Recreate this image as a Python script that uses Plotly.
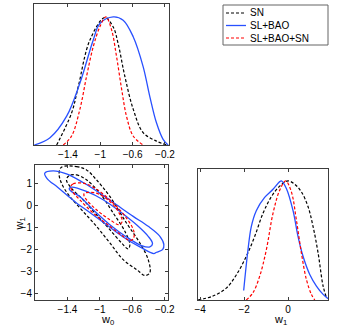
import plotly.graph_objects as go

# ---------------- data ----------------
series_names = ["SN", "SL+BAO", "SL+BAO+SN"]

# 1D marginal of w0 (normalised to peak = 1)
w0_sn_x = [-1.54, -1.355, -1.272, -1.128, -0.943, -0.84, -0.779, -0.696, -0.593, -0.47, -0.305, -0.182]
w0_sn_p = [0, 0.25, 0.457, 0.819, 0.995, 0.92, 0.79, 0.535, 0.28, 0.096, 0.03, 0]
w0_bao_x = [-1.816, -1.622, -1.416, -1.252, -1.087, -1.005, -0.84, -0.717, -0.593, -0.47, -0.388, -0.305, -0.223, -0.161]
w0_bao_p = [0, 0.057, 0.225, 0.483, 0.819, 0.948, 1.0, 0.974, 0.845, 0.612, 0.38, 0.173, 0.044, 0]
w0_all_x = [-1.458, -1.355, -1.252, -1.17, -1.087, -1.005, -0.931, -0.861, -0.799, -0.737, -0.676, -0.593, -0.47]
w0_all_p = [0, 0.07, 0.28, 0.535, 0.767, 0.922, 1.0, 0.9, 0.69, 0.44, 0.225, 0.07, 0]

# 1D marginal of w1
w1_sn_x = [-4.1, -3.42, -2.81, -2.357, -1.9, -1.52, -1.14, -0.76, -0.38, 0, 0.304, 0.608, 0.913, 1.14, 1.37, 1.597, 1.75]
w1_sn_p = [0, 0.033, 0.1, 0.21, 0.367, 0.533, 0.728, 0.867, 0.956, 1.0, 0.972, 0.908, 0.783, 0.617, 0.394, 0.117, 0.02]
w1_bao_x = [-2.02, -1.825, -1.673, -1.445, -1.065, -0.684, -0.38, -0.304, -0.076, 0.228, 0.456, 0.684, 0.989, 1.293, 1.597, 1.825]
w1_bao_p = [0.08, 0.42, 0.617, 0.75, 0.861, 0.93, 0.994, 1.0, 0.936, 0.75, 0.533, 0.367, 0.214, 0.117, 0.047, 0.011]
w1_all_x = [-1.9, -1.6, -1.29, -0.99, -0.684, -0.38, -0.106, 0.152, 0.38, 0.608, 0.837, 1.065, 1.217]
w1_all_p = [0, 0.06, 0.2, 0.42, 0.728, 0.922, 1.0, 0.908, 0.672, 0.394, 0.172, 0.047, 0]

# 2D confidence contours (w0, w1): 68% and 95%
sn68_w0 = [-1.379, -1.289, -1.165, -1.001, -0.836, -0.692, -0.630, -0.651, -0.733, -0.877, -1.042, -1.207, -1.351, -1.412, -1.379]
sn68_w1 = [1.379, 1.409, 1.182, 0.576, -0.333, -1.167, -1.773, -1.97, -1.697, -1.091, -0.409, 0.273, 0.803, 1.182, 1.379]
sn95_w0 = [-1.474, -1.289, -1.165, -1.042, -0.877, -0.672, -0.507, -0.404, -0.384, -0.445, -0.548, -0.713, -0.877, -1.042, -1.207, -1.371, -1.474, -1.503, -1.474]
sn95_w1 = [1.758, 1.788, 1.636, 1.182, 0.424, -0.788, -1.697, -2.455, -3.061, -3.182, -2.909, -2.455, -1.697, -0.939, -0.258, 0.424, 1.03, 1.485, 1.758]
bao68_w0 = [-1.351, -1.165, -0.96, -0.754, -0.548, -0.404, -0.351, -0.384, -0.486, -0.672, -0.877, -1.083, -1.248, -1.351, -1.379, -1.351]
bao68_w1 = [0.848, 0.652, 0.273, -0.258, -0.864, -1.394, -1.727, -1.879, -1.818, -1.424, -0.864, -0.182, 0.424, 0.652, 0.773, 0.848]
bao95_w0 = [-1.68, -1.577, -1.412, -1.207, -1.001, -0.795, -0.589, -0.404, -0.26, -0.211, -0.227, -0.301, -0.334, -0.507, -0.713, -0.919, -1.137, -1.281, -1.404, -1.528, -1.651, -1.68]
bao95_w1 = [1.485, 1.591, 1.455, 1.061, 0.576, 0.045, -0.485, -0.939, -1.394, -1.773, -2.0, -2.12, -2.182, -1.879, -1.424, -0.864, -0.273, 0.106, 0.485, 0.864, 1.242, 1.485]
all68_w0 = [-1.186, -1.042, -0.877, -0.774, -0.725, -0.762, -0.877, -1.042, -1.165, -1.198, -1.186]
all68_w1 = [0.576, 0.576, 0.197, -0.258, -0.712, -0.864, -0.636, -0.182, 0.273, 0.5, 0.576]
all95_w0 = [-1.359, -1.33, -1.207, -1.042, -0.836, -0.672, -0.581, -0.589, -0.639, -0.713, -0.877, -1.083, -1.248, -1.338, -1.359]
all95_w1 = [0.879, 1.0, 1.03, 0.758, 0.121, -0.561, -1.167, -1.515, -1.576, -1.394, -0.939, -0.333, 0.273, 0.652, 0.879]

w0_ticks = [-1.4, -1, -0.6, -0.2]
w0_ticklabels = ["\u22121.4", "\u22121", "\u22120.6", "\u22120.2"]
w1_ticks_y = [1, 0, -1, -2, -3, -4]
w1_ticklabels_y = ["1", "0", "\u22121", "\u22122", "\u22123", "\u22124"]
w1_ticks_x = [-4, -2, 0]
w1_ticklabels_x = ["\u22124", "\u22122", "0"]

# ---------------- styles ----------------
BLACK = "rgb(0,0,0)"
BLUE = "rgb(40,80,255)"
RED = "rgb(255,0,0)"
styles = {
    "SN": dict(color=BLACK, dash="3px,2px", width=1.2),
    "SL+BAO": dict(color=BLUE, dash="solid", width=1.3),
    "SL+BAO+SN": dict(color=RED, dash="3px,2px", width=1.2),
}
FONT = "Liberation Sans, Arial, Helvetica, sans-serif"

fig = go.Figure()

def add(x, y, name, xa, ya):
    fig.add_trace(go.Scatter(
        x=x, y=y, mode="lines", name=name, legendgroup=name, showlegend=False,
        line=dict(shape="spline", smoothing=1.0, **styles[name]),
        xaxis=xa, yaxis=ya, hoverinfo="skip"))

# top-left: w0 marginal
add(w0_sn_x, w0_sn_p, "SN", "x", "y")
add(w0_bao_x, w0_bao_p, "SL+BAO", "x", "y")
add(w0_all_x, w0_all_p, "SL+BAO+SN", "x", "y")

# bottom-left: 2D contours
add(sn95_w0, sn95_w1, "SN", "x2", "y2")
add(sn68_w0, sn68_w1, "SN", "x2", "y2")
add(bao95_w0, bao95_w1, "SL+BAO", "x2", "y2")
add(bao68_w0, bao68_w1, "SL+BAO", "x2", "y2")
add(all95_w0, all95_w1, "SL+BAO+SN", "x2", "y2")
add(all68_w0, all68_w1, "SL+BAO+SN", "x2", "y2")

# bottom-right: w1 marginal
add(w1_sn_x, w1_sn_p, "SN", "x3", "y3")
add(w1_bao_x, w1_bao_p, "SL+BAO", "x3", "y3")
add(w1_all_x, w1_all_p, "SL+BAO+SN", "x3", "y3")

W, H = 348, 336
def px(v):
    return v / W
def py(v):
    return 1 - v / H
def dx(a, b):
    return [px(a), px(b)]
def dy(top, bottom):
    return [py(bottom), py(top)]

axcommon = dict(showline=True, linecolor="rgb(60,60,60)", linewidth=1, mirror="ticks",
                ticks="inside", ticklen=3, tickcolor="rgb(60,60,60)", showgrid=False,
                zeroline=False, tickfont=dict(family=FONT, size=10, color="black"))
noticks = {**axcommon, "ticks": "", "showticklabels": False}

# legend drawn as a framed key (box, line samples, labels)
shapes = [dict(type="rect", xref="paper", yref="paper", x0=px(223), x1=px(328), y0=py(45), y1=py(5),
               line=dict(color="rgb(100,100,100)", width=1), fillcolor="white", layer="above")]
annotations = []
legend_rows = [13, 25.5, 38]
for name, yrow in zip(series_names, legend_rows):
    st = styles[name]
    shapes.append(dict(type="line", xref="paper", yref="paper", x0=px(226), x1=px(246),
                       y0=py(yrow), y1=py(yrow), layer="above",
                       line=dict(color=st["color"], width=st["width"], dash=st["dash"])))
    annotations.append(dict(text=name, x=px(248), y=py(yrow), xref="paper", yref="paper",
                            xanchor="left", yanchor="middle", showarrow=False,
                            font=dict(family=FONT, size=10, color="black")))

annotations += [
    dict(text="w<sub>0</sub>", x=px(99), y=py(329), xref="paper", yref="paper",
         showarrow=False, font=dict(family=FONT, size=11)),
    dict(text="w<sub>1</sub>", x=px(289), y=py(329), xref="paper", yref="paper",
         showarrow=False, font=dict(family=FONT, size=11)),
    dict(text="w<sub>1</sub>", x=px(10), y=py(233), xref="paper", yref="paper",
         showarrow=False, textangle=-90, font=dict(family=FONT, size=11)),
]

fig.update_layout(
    width=W, height=H, margin=dict(l=0, r=0, t=0, b=0, autoexpand=False),
    paper_bgcolor="white", plot_bgcolor="white",
    font=dict(family=FONT, size=10, color="black"),
    xaxis=dict(domain=dx(34, 169), range=[-1.82, -0.15], tickvals=w0_ticks, ticktext=w0_ticklabels, anchor="y", **axcommon),
    yaxis=dict(domain=dy(4, 145), range=[0, 1.1], anchor="x", **noticks),
    xaxis2=dict(domain=dx(35, 168), range=[-1.8, -0.16], tickvals=w0_ticks, ticktext=w0_ticklabels, anchor="y2", **axcommon),
    yaxis2=dict(domain=dy(165, 300), range=[-4.3, 1.86], tickvals=w1_ticks_y, ticktext=w1_ticklabels_y,
                anchor="x2", **axcommon),
    xaxis3=dict(domain=dx(198, 328), range=[-4.1, 1.82], tickvals=w1_ticks_x, ticktext=w1_ticklabels_x,
                anchor="y3", **axcommon),
    yaxis3=dict(domain=dy(169, 300), range=[0, 1.1], anchor="x3", **noticks),
    showlegend=False,
    shapes=shapes,
    annotations=annotations,
)

fig.write_html("out.html", config={"displayModeBar": False},
               post_script="document.body.style.margin='0px';")
